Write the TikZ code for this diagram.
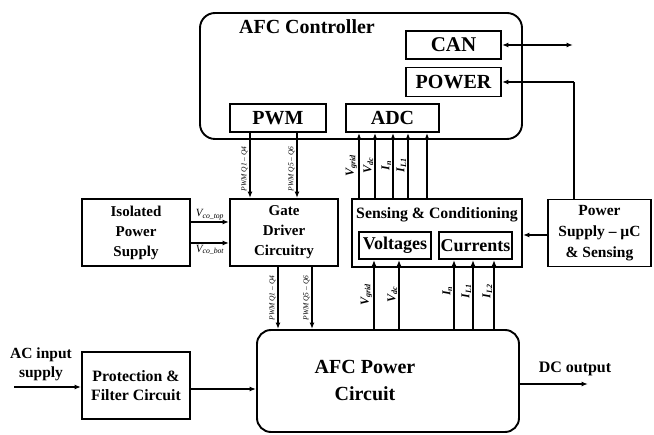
\documentclass[tikz,border=0pt]{standalone}
\usepackage{fontspec}
\setmainfont{Liberation Serif}
\usetikzlibrary{arrows.meta,calc}
\begin{document}
\begin{tikzpicture}[x=1pt,y=-1pt,
  box/.style={draw, line width=1.9pt, inner sep=0pt, font=\bfseries, align=center},
  arr/.style={line width=1.7pt, -{Latex[length=6.5pt,width=5pt]}},
  biarr/.style={line width=1.7pt, {Latex[length=6.5pt,width=5pt]}-{Latex[length=6.5pt,width=5pt]}},
  lbl/.style={font=\bfseries\itshape\fontsize{12}{13}\selectfont, inner sep=1pt},
  rlbl/.style={lbl, rotate=90, anchor=south},
  plbl/.style={font=\itshape\fontsize{7.5}{8}\selectfont, rotate=90, anchor=south, inner sep=1.5pt},
  big/.style={font=\bfseries\fontsize{20}{22}\selectfont},
]
\useasboundingbox (0,0) rectangle (654,435);

% controller
\node[box, rounded corners=15pt, minimum width=322pt, minimum height=126pt] (ctrl) at (361,76) {};
\node[font=\bfseries\fontsize{20}{22}\selectfont] (ctrltitle) at (307,27) {AFC Controller};
\node[box, font=\bfseries\fontsize{21}{22}\selectfont, minimum width=95pt, minimum height=28pt] (can) at (453.5,45) {CAN};
\node[box, big, minimum width=95pt, minimum height=29pt] (pwr) at (453.5,82) {POWER};
\node[box, big, minimum width=96pt, minimum height=28pt] (pwm) at (278,118) {PWM};
\node[box, big, minimum width=93pt, minimum height=28pt] (adc) at (392.5,118) {ADC};

% middle row
\node[box, font=\bfseries\fontsize{15}{20}\selectfont, minimum width=108pt, minimum height=67pt] (iso) at (136,232.5) {Isolated\\Power\\Supply};
\node[box, font=\bfseries\fontsize{15}{20}\selectfont, minimum width=108pt, minimum height=67pt] (gate) at (284,232.5) {Gate\\Driver\\Circuitry};
\node[box, minimum width=170pt, minimum height=68pt] (sense) at (437,233) {};
\node[font=\bfseries\fontsize{15.8}{17}\selectfont] (senset) at (437,215) {Sensing \& Conditioning};
\node[box, font=\bfseries\fontsize{18}{20}\selectfont, minimum width=72pt, minimum height=27pt] (volt) at (395,245.5) {Voltages};
\node[box, font=\bfseries\fontsize{18}{20}\selectfont, minimum width=73pt, minimum height=27pt] (curr) at (475.5,245.5) {Currents};
\node[box, font=\bfseries\fontsize{15.5}{21}\selectfont, minimum width=103pt, minimum height=67pt] (psu) at (599.5,233) {Power\\Supply -- µC\\\& Sensing};

% bottom row
\node[box, rounded corners=14pt, minimum width=262pt, minimum height=102pt] (power) at (388,381) {};
\node[font=\bfseries\fontsize{20}{27}\selectfont, align=center] (pctext) at (365,381) {AFC Power\\Circuit};
\node[box, font=\bfseries\fontsize{15.8}{19}\selectfont, minimum width=108pt, minimum height=67pt] (prot) at (136,385.5) {Protection \&\\Filter Circuit};
\node[font=\bfseries\fontsize{15.5}{19}\selectfont, align=center] (actext) at (41,364) {AC input\\supply};
\node[font=\bfseries\fontsize{16}{18}\selectfont] (dctext) at (575,369) {DC output};
\coordinate (acin) at (14,387);
\coordinate (dcout) at (588,384);
\coordinate (canend) at (573,45);
\coordinate (pl) at (574,150);

% CAN and POWER
\draw[biarr] (can.east) -- (can.east -| canend);
\draw[line width=1.7pt] (pl |- psu.north) -- (pl |- pwr.east);
\draw[arr] (pl |- pwr.east) -- (pwr.east);

% PWM to gate driver
\draw[arr] ([xshift=-28pt]pwm.south) -- ([xshift=-28pt]pwm.south |- gate.north) node[plbl, pos=0.55] {PWM Q1 -- Q4};
\draw[arr] ([xshift=19pt]pwm.south) -- ([xshift=19pt]pwm.south |- gate.north) node[plbl, pos=0.55] {PWM Q5 -- Q6};

% sensing to ADC
\draw[arr] ([xshift=-33.5pt]adc.south |- sense.north) -- ([xshift=-33.5pt]adc.south) node[rlbl, pos=0.5] {V\textsubscript{grid}};
\draw[arr] ([xshift=-17.5pt]adc.south |- sense.north) -- ([xshift=-17.5pt]adc.south) node[rlbl, pos=0.5] {V\textsubscript{dc}};
\draw[arr] ([xshift=0.5pt]adc.south |- sense.north) -- ([xshift=0.5pt]adc.south) node[rlbl, pos=0.5] {I\textsubscript{n}};
\draw[arr] ([xshift=15.5pt]adc.south |- sense.north) -- ([xshift=15.5pt]adc.south) node[rlbl, pos=0.5] {I\textsubscript{L1}};
\draw[arr] ([xshift=34.5pt]adc.south |- sense.north) -- ([xshift=34.5pt]adc.south);

% isolated supply to gate driver
\draw[arr] ([yshift=10.5pt]iso.east) -- ([yshift=10.5pt]iso.east -| gate.west) node[lbl, midway, above, font=\itshape\fontsize{11}{12}\selectfont] {V\textsubscript{co\_top}};
\draw[arr] ([yshift=-10.5pt]iso.east) -- ([yshift=-10.5pt]iso.east -| gate.west) node[lbl, midway, below, font=\itshape\fontsize{11}{12}\selectfont] {V\textsubscript{co\_bot}};

% psu to sensing
\draw[arr] ([yshift=-2pt]psu.west) -- ([yshift=-2pt]psu.west -| sense.east);

% gate driver to power circuit
\draw[arr] ([xshift=-6pt]gate.south) -- ([xshift=-6pt]gate.south |- power.north) node[plbl, pos=0.5] {PWM Q1 -- Q4};
\draw[arr] ([xshift=28pt]gate.south) -- ([xshift=28pt]gate.south |- power.north) node[plbl, pos=0.5] {PWM Q5 -- Q6};

% power circuit to voltages / currents
\draw[arr] ([xshift=-21pt]volt.south |- power.north) -- ([xshift=-21pt]volt.south) node[rlbl, pos=0.5] {V\textsubscript{grid}};
\draw[arr] ([xshift=4pt]volt.south |- power.north) -- ([xshift=4pt]volt.south) node[rlbl, pos=0.5] {V\textsubscript{dc}};
\draw[arr] ([xshift=-21.5pt]curr.south |- power.north) -- ([xshift=-21.5pt]curr.south) node[rlbl, pos=0.55] {I\textsubscript{n}};
\draw[arr] ([xshift=-2.5pt]curr.south |- power.north) -- ([xshift=-2.5pt]curr.south) node[rlbl, pos=0.55] {I\textsubscript{L1}};
\draw[arr] ([xshift=18.5pt]curr.south |- power.north) -- ([xshift=18.5pt]curr.south) node[rlbl, pos=0.55] {I\textsubscript{L2}};

% input / output
\draw[arr] (acin) -- (acin -| prot.west);
\draw[arr] ([yshift=-3.5pt]prot.east) -- ([yshift=-3.5pt]prot.east -| power.west);
\draw[arr] (power.east |- dcout) -- (dcout);
\end{tikzpicture}
\end{document}
